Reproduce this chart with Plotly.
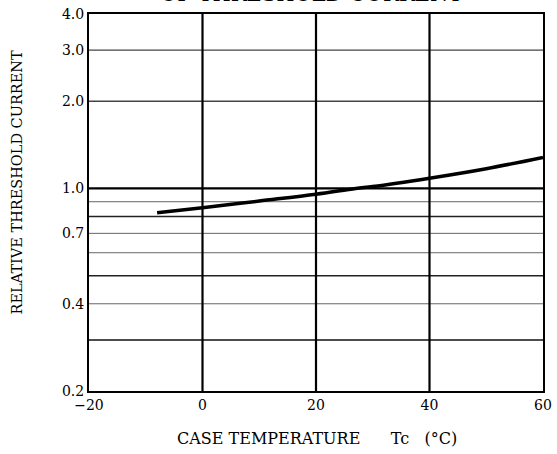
import math
import plotly.graph_objects as go

# Data
temp_c = [-8, 0, 10, 20, 27, 30, 40, 50, 60]
rel_current = [0.825, 0.858, 0.905, 0.955, 1.0, 1.015, 1.085, 1.17, 1.28]

x_ticks = [-20, 0, 20, 40, 60]
x_tick_text = ["\u221220", "0", "20", "40", "60"]
y_ticks = [0.2, 0.4, 0.7, 1.0, 2.0, 3.0, 4.0]
y_tick_text = ["0.2", "0.4", "0.7", "1.0", "2.0", "3.0", "4.0"]

v_grid = [0, 20, 40]
h_grid = [0.3, 0.4, 0.5, 0.6, 0.7, 0.8, 0.9, 1.0, 2.0, 3.0]

X_RANGE = [-20, 60]
Y_RANGE = [0.2, 4.0]

FONT = "DejaVu Serif"

fig = go.Figure()

heavy = {1.0: ("#000000", 2.2), 0.3: ("#111111", 1.6), 0.5: ("#222222", 1.4),
         0.8: ("#222222", 1.4), 2.0: ("#444444", 1.3), 3.0: ("#444444", 1.3)}
for v in h_grid:
    col, w = heavy.get(v, ("#666666", 1.0))
    fig.add_trace(go.Scatter(x=X_RANGE, y=[v, v], mode="lines",
                             line=dict(color=col, width=w),
                             hoverinfo="skip", showlegend=False))
for v in v_grid:
    fig.add_trace(go.Scatter(x=[v, v], y=Y_RANGE, mode="lines",
                             line=dict(color="#000000", width=2.2),
                             hoverinfo="skip", showlegend=False))

fig.add_trace(go.Scatter(x=temp_c, y=rel_current, mode="lines",
                         line=dict(color="#000000", width=3.5, shape="spline"),
                         showlegend=False))

fig.update_xaxes(range=X_RANGE, tickvals=x_ticks, ticktext=x_tick_text,
                 showgrid=False, zeroline=False, showline=True, mirror=True,
                 linecolor="#000000", linewidth=2, ticks="", automargin=False,
                 tickfont=dict(family=FONT, size=14, color="#000000"))
fig.update_yaxes(type="log", range=[math.log10(Y_RANGE[0]), math.log10(Y_RANGE[1])],
                 tickvals=y_ticks, ticktext=y_tick_text,
                 showgrid=False, zeroline=False, showline=True, mirror=True,
                 linecolor="#000000", linewidth=2, ticks="", automargin=False,
                 tickfont=dict(family=FONT, size=14, color="#000000"))

sp3 = "&nbsp;" * 3
sp6 = "&nbsp;" * 6
fig.add_annotation(text="CASE TEMPERATURE" + sp6 + "Tc" + sp3 + "(\u00b0C)",
                   xref="paper", yref="paper", x=0.502, y=-0.127,
                   xanchor="center", yanchor="middle", showarrow=False,
                   font=dict(family=FONT, size=16, color="#000000"))
fig.add_annotation(text="RELATIVE THRESHOLD CURRENT",
                   xref="paper", yref="paper", x=-0.158, y=0.554,
                   xanchor="center", yanchor="middle", showarrow=False,
                   textangle=-90,
                   font=dict(family=FONT, size=14.5, color="#000000"))
fig.add_annotation(text="OF THRESHOLD CURRENT",
                   xref="paper", yref="paper", x=0.488, y=1.0159,
                   xanchor="center", yanchor="bottom", showarrow=False,
                   font=dict(family=FONT, size=21, color="#000000"))

fig.update_layout(width=557, height=454,
                  margin=dict(l=89, r=14, t=14, b=63, autoexpand=False),
                  paper_bgcolor="white", plot_bgcolor="white")

fig.write_html("out.html")
